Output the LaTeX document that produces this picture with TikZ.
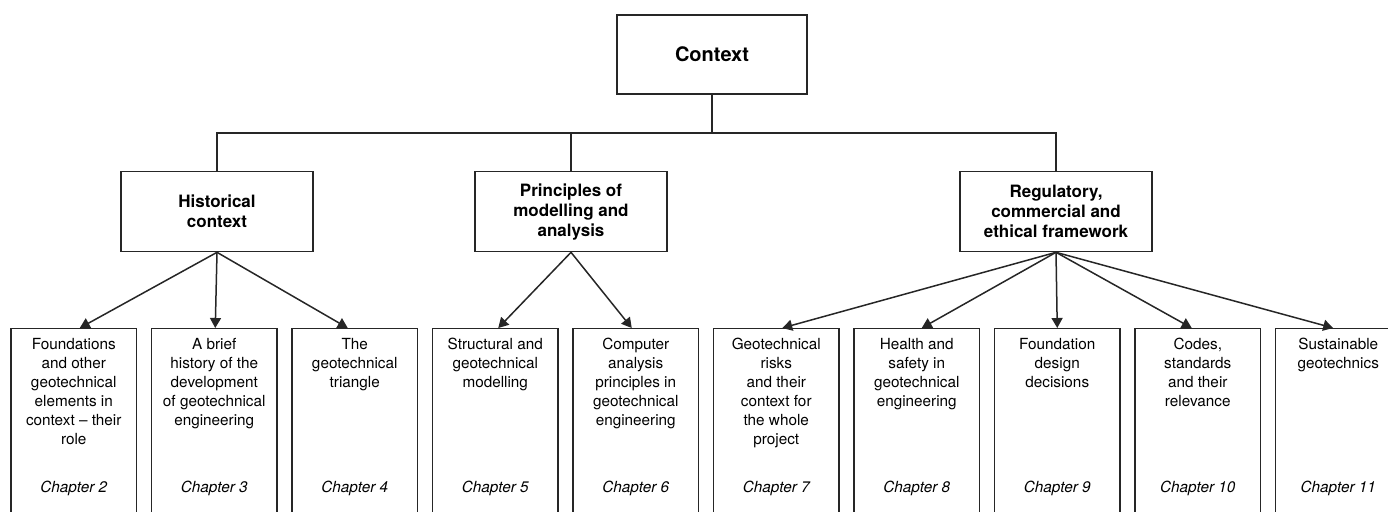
\documentclass[tikz,border=0pt]{standalone}
\usepackage{fontspec}
\setmainfont{TeX Gyre Heros}
\usetikzlibrary{arrows.meta,calc}
\tikzset{
  ln/.style={draw=black!85,line width=1.25pt},
  ctxbox/.style={ln,rectangle,minimum width=190pt,minimum height=79pt,inner sep=0pt,
     font=\fontsize{20}{24}\selectfont\bfseries},
  midbox/.style={ln,rectangle,minimum width=192pt,minimum height=80pt,inner sep=0pt,
     align=center,font=\fontsize{17}{20}\selectfont\bfseries},
  chapbox/.style={ln,rectangle,anchor=north,minimum width=125.5pt,minimum height=200pt,inner sep=0pt},
  boxtext/.style={anchor=north,inner sep=0pt,align=center,font=\fontsize{15.3}{18.9}\selectfont},
  chaptext/.style={anchor=base,inner sep=0pt,font=\fontsize{15.3}{18.9}\selectfont\itshape},
  arr/.style={draw=black!85,line width=1.5pt,-{Triangle[length=10pt,width=11pt]}},
  conn/.style={draw=black!85,line width=1.25pt}
}
\begin{document}
\begin{tikzpicture}[x=1pt,y=-1pt]
\useasboundingbox (0,0) rectangle (1388,511);
\clip (0,0) rectangle (1388,511);
% top
\node[ctxbox] (ctx) at (712,54.5) {Context};
\node[midbox] (hist) at (217,211.7) {Historical\\context};
\node[midbox] (prin) at (571,211.7) {Principles of\\modelling and\\analysis};
\node[midbox] (reg) at (1056,211.7) {Regulatory,\\commercial and\\ethical framework};
\coordinate (bus) at (712,133);
\draw[conn] (ctx.south) -- (bus);
\draw[conn] (hist.north) |- (bus) -| (reg.north);
\draw[conn] (prin.north) -- (prin.north |- bus);
% bottom boxes
\node[chapbox] (b1) at (73.75,328) {};
\node[chapbox] (b2) at (214.25,328) {};
\node[chapbox] (b3) at (354.75,328) {};
\node[chapbox] (b4) at (495.25,328) {};
\node[chapbox] (b5) at (635.75,328) {};
\node[chapbox] (b6) at (776.25,328) {};
\node[chapbox] (b7) at (916.75,328) {};
\node[chapbox] (b8) at (1057.25,328) {};
\node[chapbox] (b9) at (1197.75,328) {};
\node[chapbox] (b10) at (1338.25,328) {};
% texts
\node[boxtext] (t1) at ($(b1.north)+(0,10.3)$) {Foundations\\and other\\geotechnical\\elements in\\context -- their\\role};
\node[boxtext] (t2) at ($(b2.north)+(0,10.3)$) {A brief\\history of the\\development\\of geotechnical\\engineering};
\node[boxtext] (t3) at ($(b3.north)+(0,10.3)$) {The\\geotechnical\\triangle};
\node[boxtext] (t4) at ($(b4.north)+(0,10.3)$) {Structural and\\geotechnical\\modelling};
\node[boxtext] (t5) at ($(b5.north)+(0,10.3)$) {Computer\\analysis\\principles in\\geotechnical\\engineering};
\node[boxtext] (t6) at ($(b6.north)+(0,10.3)$) {Geotechnical\\risks\\and their\\context for\\the whole\\project};
\node[boxtext] (t7) at ($(b7.north)+(0,10.3)$) {Health and\\safety in\\geotechnical\\engineering};
\node[boxtext] (t8) at ($(b8.north)+(0,10.3)$) {Foundation\\design\\decisions};
\node[boxtext] (t9) at ($(b9.north)+(0,10.3)$) {Codes,\\standards\\and their\\relevance};
\node[boxtext] (t10) at ($(b10.north)+(0,10.3)$) {Sustainable\\geotechnics};
\node[chaptext] (c1) at ($(b1.north)+(0,164.7)$) {Chapter 2};
\node[chaptext] (c2) at ($(b2.north)+(0,164.7)$) {Chapter 3};
\node[chaptext] (c3) at ($(b3.north)+(0,164.7)$) {Chapter 4};
\node[chaptext] (c4) at ($(b4.north)+(0,164.7)$) {Chapter 5};
\node[chaptext] (c5) at ($(b5.north)+(0,164.7)$) {Chapter 6};
\node[chaptext] (c6) at ($(b6.north)+(0,164.7)$) {Chapter 7};
\node[chaptext] (c7) at ($(b7.north)+(0,164.7)$) {Chapter 8};
\node[chaptext] (c8) at ($(b8.north)+(0,164.7)$) {Chapter 9};
\node[chaptext] (c9) at ($(b9.north)+(0,164.7)$) {Chapter 10};
\node[chaptext] (c10) at ($(b10.north)+(0,164.7)$) {Chapter 11};
% arrows
\draw[arr] (hist.south) -- ([xshift=6pt]b1.north);
\draw[arr] (hist.south) -- ([xshift=1pt]b2.north);
\draw[arr] (hist.south) -- ([xshift=-7pt]b3.north);
\draw[arr] (prin.south) -- ([xshift=3pt]b4.north);
\draw[arr] (prin.south) -- ([xshift=-4pt]b5.north);
\draw[arr] (reg.south) -- ([xshift=6pt]b6.north);
\draw[arr] (reg.south) -- ([xshift=5pt]b7.north);
\draw[arr] (reg.south) -- ([xshift=0pt]b8.north);
\draw[arr] (reg.south) -- ([xshift=-6pt]b9.north);
\draw[arr] (reg.south) -- ([xshift=-5pt]b10.north);
\end{tikzpicture}
\end{document}
